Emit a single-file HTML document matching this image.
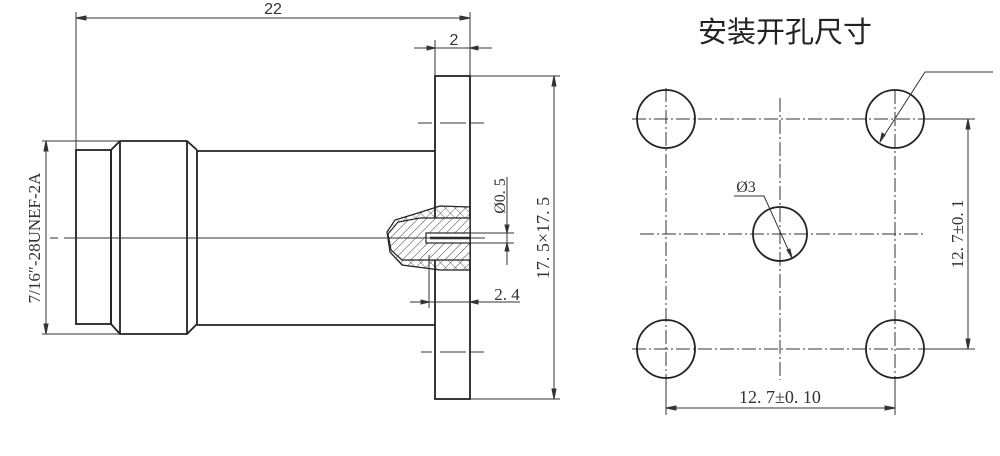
<!DOCTYPE html>
<html><head><meta charset="utf-8"><style>
html,body{margin:0;padding:0;background:#fff;width:1000px;height:456px;overflow:hidden}
svg{display:block}
.s{font-family:"Liberation Serif","Noto Serif CJK SC",serif;fill:#333}
.a{font-family:"Liberation Sans",sans-serif;fill:#333}
.c{font-family:"Noto Sans CJK SC","WenQuanYi Zen Hei",sans-serif;fill:#222}
</style></head><body>
<svg width="1000" height="456" viewBox="0 0 1000 456" xmlns="http://www.w3.org/2000/svg">
<defs>
<pattern id="h" width="6" height="6" patternUnits="userSpaceOnUse" patternTransform="rotate(45)"><rect width="6" height="6" fill="#fff"/><line x1="0" y1="0" x2="0" y2="6" stroke="#333" stroke-width="1"/></pattern>
<pattern id="x" width="7" height="7" patternUnits="userSpaceOnUse" patternTransform="rotate(45)"><path d="M0 0V7M0 0H7" stroke="#333" stroke-width="0.8"/></pattern>
</defs>
<g stroke="#222" fill="none" stroke-width="1.8">
<rect x="76" y="150" width="35" height="174"/>
<path d="M111 150 L120 141 L187 141 L197 150 M111 324 L120 334 L187 334 L197 324 M111 150 V324 M120 141 V334 M187 141 V334 M197 150 V324"/>
<path d="M197 151 H435 M197 325 H435"/>
<rect x="435" y="76" width="35" height="323"/>
<path d="M470 207 L440 206 L418 213 L395 220 L387 232 L390 252 L402 265 L440 270 L470 270 Z" fill="url(#x)" stroke-width="1.2"/>
<path d="M470 218 L420 218 L398 222 L388 234 L391 250 L402 260 L470 260 Z" fill="url(#h)" stroke-width="1.2"/>
<rect x="426" y="233" width="44" height="10" fill="#fff" stroke-width="1.2"/>
<line x1="430" y1="238" x2="470" y2="238" stroke-width="2.5"/>
</g>
<g stroke="#333" fill="none" stroke-width="1">
<path d="M50 238 H58 M64 238 H470"/>
<line x1="470" y1="238" x2="485" y2="238"/>
<path d="M76 12 V150 M470 12 V76 M76 18 H470"/>
<path d="M76 18 l10 -2 v4z M470 18 l-10 -2 v4z" fill="#333"/>
<path d="M435 40 V76 M414 48 H492"/>
<path d="M435 48 l-8 -2 v4z M470 48 l8 -2 v4z" fill="#333"/>
<path d="M470 76 H560 M470 399 H560 M554 76 V399"/>
<path d="M554 76 l-2 10 h4z M554 399 l-2 -10 h4z" fill="#333"/>
<path d="M42 141 H120 M42 334 H120 M46 141 V334"/>
<path d="M46 141 l-2 10 h4z M46 334 l-2 -10 h4z" fill="#333"/>
<path d="M418 123 H432 M440 123 H466 M470 123 H484 M421 352 H432 M440 352 H466 M470 352 H484"/>
<path d="M470 233 H514 M470 243 H514 M507 177 V265"/>
<path d="M507 233 l-2 -8 h4z M507 243 l-2 8 h4z" fill="#333"/>
<path d="M429 255 V308 M410 302 H520"/>
<path d="M429 302 l-8 -2 v4z M470 302 l8 -2 v4z" fill="#333"/>
</g>
<text class="a" x="273" y="14" font-size="16" text-anchor="middle">22</text>
<text class="a" x="454" y="45" font-size="16" text-anchor="middle">2</text>
<text class="s" x="507" y="300" font-size="17" text-anchor="middle">2. 4</text>
<text class="s" transform="translate(40,238) rotate(-90)" font-size="17" text-anchor="middle">7/16″-28UNEF-2A</text>
<text class="s" transform="translate(505,196) rotate(-90)" font-size="16" text-anchor="middle">Ø0. 5</text>
<text class="s" transform="translate(549,238) rotate(-90)" font-size="18" text-anchor="middle">17. 5×17. 5</text>

<text class="c" x="785" y="42" font-size="29" text-anchor="middle">安装开孔尺寸</text>
<g stroke="#333" fill="none" stroke-width="1" stroke-dasharray="14 3 2 3">
<path d="M632 119 H975 M640 234 H925 M632 349 H975 M666 88 V412 M780 98 V380 M895 90 V412"/>
</g>
<g stroke="#222" fill="none" stroke-width="1.8">
<circle cx="666" cy="119" r="29"/>
<circle cx="895" cy="119" r="29"/>
<circle cx="666" cy="349" r="29"/>
<circle cx="895" cy="349" r="29"/>
<circle cx="780" cy="234" r="27"/>
</g>
<g stroke="#333" fill="none" stroke-width="1">
<path d="M993 72 H925 L880 142"/>
<path d="M880 142 l2 -9 l3 2z" fill="#333"/>
<path d="M734 196 H764 L792 258"/>
<path d="M792 258 l-5 -8 l3 -1z" fill="#333"/>
<path d="M924 119 H975 M924 349 H975 M968 119 V349"/>
<path d="M968 119 l-2 10 h4z M968 349 l-2 -10 h4z" fill="#333"/>
<path d="M666 380 V415 M895 380 V415 M666 408 H895"/>
<path d="M666 408 l10 -2 v4z M895 408 l-10 -2 v4z" fill="#333"/>
</g>
<text class="s" x="746" y="192" font-size="16" text-anchor="middle">Ø3</text>
<text class="s" x="780" y="403" font-size="18" text-anchor="middle">12. 7±0. 10</text>
<text class="s" transform="translate(963,234) rotate(-90)" font-size="17" text-anchor="middle">12. 7±0. 1</text>
</svg>
</body></html>
